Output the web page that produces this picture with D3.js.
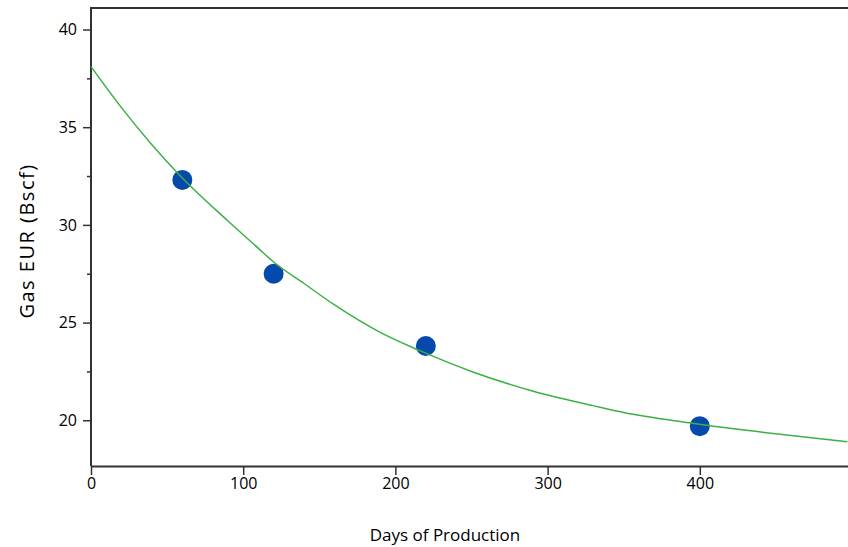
<!DOCTYPE html>
<html>
<head>
<meta charset="utf-8">
<script src="https://cdn.jsdelivr.net/npm/d3@7"></script>
<style>
  html, body { margin: 0; padding: 0; background: #fff; }
  svg { display: block; font-family: "Open Sans", "Noto Sans", sans-serif; }
</style>
</head>
<body>
<svg id="chart" width="848" height="547"></svg>
<script>
// Measured wells: days on production vs. estimated ultimate recovery
const days = [60, 120, 220, 400];
const eur = [32.3, 27.5, 23.8, 19.7];

// Fitted decline trend
const trendDays = [0, 20, 40, 60, 90, 110, 120, 140, 160, 190, 215, 250, 290, 330, 350, 390, 440, 497];
const trendEur = [38.1, 36.0, 34.1, 32.4, 30.2, 28.8, 28.1, 27.0, 25.9, 24.5, 23.6, 22.5, 21.5, 20.75, 20.4, 19.9, 19.4, 18.9];

const xTicks = [0, 100, 200, 300, 400];
const yTicks = [20, 25, 30, 35, 40];
const yMinorTicks = [22.5, 27.5, 32.5, 37.5];

const svg = d3.select("#chart");
const plotLeft = 91, plotTop = 8, plotBottom = 466;

const x = d3.scaleLinear().domain([0, 500]).range([plotLeft, 852]);
const y = d3.scaleLinear().domain([17.66, 41.1]).range([plotBottom, plotTop]);

const axisColor = "#333";

// top frame line
svg.append("line")
  .attr("x1", plotLeft).attr("x2", 860)
  .attr("y1", plotTop).attr("y2", plotTop)
  .attr("stroke", axisColor).attr("stroke-width", 2);

// y axis: major + minor ticks
const yAxisG = svg.append("g").attr("transform", `translate(${plotLeft},0)`);
yAxisG.call(d3.axisLeft(y).tickValues(yTicks).tickSize(8).tickPadding(6).tickSizeOuter(0));
svg.append("g").attr("transform", `translate(${plotLeft},0)`)
  .call(d3.axisLeft(y).tickValues(yMinorTicks).tickSize(4).tickFormat("").tickSizeOuter(0))
  .select(".domain").remove();

// x axis
const xAxisG = svg.append("g").attr("transform", `translate(0,${plotBottom})`);
xAxisG.call(d3.axisBottom(x).tickValues(xTicks).tickSize(9).tickPadding(3).tickSizeOuter(0));

svg.selectAll(".domain").attr("stroke", axisColor).attr("stroke-width", 2);
svg.selectAll(".tick line").attr("stroke", axisColor).attr("stroke-width", 1.5);
svg.selectAll(".tick text").attr("font-size", 16).attr("fill", "#000")
  .attr("font-family", "'Open Sans', 'Noto Sans', sans-serif");

// y domain line should span to the frame top
yAxisG.select(".domain").attr("d", `M0,${plotBottom}V${plotTop - 1}`);

// data points
svg.append("g").selectAll("circle")
  .data(days.map((d, i) => [d, eur[i]]))
  .join("circle")
  .attr("cx", d => x(d[0]))
  .attr("cy", d => y(d[1]))
  .attr("r", 10)
  .attr("fill", "#0549ad");

// trend line drawn above the points
const line = d3.line()
  .x(d => x(d[0]))
  .y(d => y(d[1]))
  .curve(d3.curveMonotoneX);

svg.append("path")
  .datum(trendDays.map((d, i) => [d, trendEur[i]]))
  .attr("d", line)
  .attr("fill", "none")
  .attr("stroke", "#3cb043")
  .attr("stroke-width", 1.5);

// axis titles
svg.append("text")
  .attr("x", 445).attr("y", 541)
  .attr("text-anchor", "middle")
  .attr("font-size", 17)
  .attr("fill", "#000")
  .text("Days of Production");

svg.append("text")
  .attr("transform", `translate(34,241) rotate(-90)`)
  .attr("text-anchor", "middle")
  .attr("font-size", 20)
  .attr("letter-spacing", 1.5)
  .attr("fill", "#000")
  .text("Gas EUR (Bscf)");
</script>
</body>
</html>
